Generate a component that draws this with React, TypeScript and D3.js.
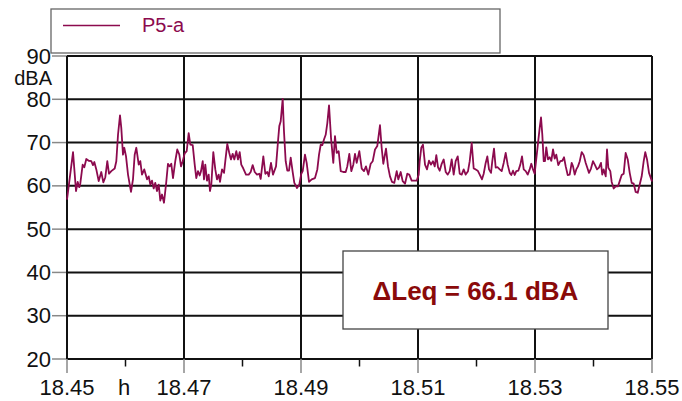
import React from "react";
import * as d3 from "d3";

// time (h) of each sample
const times: number[] = [
  18.45, 18.45103, 18.45154, 18.45183, 18.4521, 18.45227, 18.45268, 18.45296, 18.4533, 18.45371,
  18.45415, 18.45444, 18.45467, 18.45501, 18.45542, 18.45586, 18.45621, 18.45655, 18.45689, 18.45718,
  18.45757, 18.45815, 18.45843, 18.45872, 18.45906, 18.45928, 18.45957, 18.45979, 18.46009, 18.46043,
  18.46094, 18.46128, 18.46157, 18.46185, 18.46226, 18.46253, 18.46282, 18.46321, 18.46368, 18.46397,
  18.46424, 18.46453, 18.46482, 18.46509, 18.46538, 18.46568, 18.46595, 18.46624, 18.46658, 18.46697,
  18.46726, 18.46756, 18.46783, 18.46812, 18.46851, 18.46885, 18.4692, 18.46949, 18.46978,
  18.47012, 18.47046, 18.4708, 18.47108, 18.47149, 18.47183, 18.4721, 18.47239, 18.47268, 18.47291,
  18.4732, 18.47342, 18.47364, 18.47393, 18.47422, 18.47444, 18.47467, 18.47501, 18.47535, 18.47564,
  18.47593, 18.47615, 18.4765, 18.47684, 18.47706, 18.4774, 18.47774, 18.47803, 18.47832, 18.4786,
  18.47894, 18.47923, 18.47952, 18.47979, 18.48014, 18.4806, 18.48106, 18.4814, 18.48174, 18.48209,
  18.48248, 18.48287, 18.48311, 18.48356, 18.4839, 18.48424, 18.48448, 18.48487, 18.48521, 18.48573,
  18.48607, 18.48629, 18.48653, 18.48687, 18.48709, 18.48738, 18.48766, 18.48795, 18.48824, 18.48858,
  18.48886, 18.48932, 18.48971, 18.49005,
  18.49029, 18.49068, 18.49097, 18.49137, 18.49183, 18.49239, 18.49279, 18.49308, 18.49337, 18.49364,
  18.49393, 18.49422, 18.4945, 18.49479, 18.49513, 18.49552, 18.49581, 18.4961, 18.49644, 18.49679,
  18.49723, 18.49764, 18.49791, 18.49826, 18.4986, 18.49894, 18.49923, 18.49952, 18.49997, 18.50038,
  18.50077, 18.50111, 18.5015, 18.50191, 18.50226, 18.50265, 18.50304, 18.5035, 18.50379, 18.50407,
  18.50453, 18.50487, 18.50521, 18.50556, 18.50595, 18.50636, 18.50663, 18.50704, 18.50738, 18.50778,
  18.50817, 18.50851, 18.50892, 18.50932, 18.50978, 18.51012,
  18.51029, 18.51056, 18.51085, 18.5112, 18.51154, 18.51188, 18.51222, 18.51256, 18.51286, 18.51313,
  18.51342, 18.51371, 18.51405, 18.51439, 18.51474, 18.51508, 18.51542, 18.51576, 18.5161, 18.51644,
  18.51679, 18.51713, 18.51747, 18.51781, 18.51815, 18.51855, 18.51884, 18.51918, 18.51952, 18.51986,
  18.52021, 18.52055, 18.52094, 18.52123, 18.52157, 18.52185, 18.52214, 18.52248, 18.5227, 18.52299,
  18.52328, 18.52362, 18.52397, 18.52431, 18.52465, 18.52499, 18.52533, 18.52568, 18.52595, 18.52624,
  18.52653, 18.5268, 18.52715, 18.52749, 18.52778, 18.52807, 18.52841, 18.52875, 18.52909, 18.52937,
  18.52966, 18.52994,
  18.53046, 18.5308, 18.53103, 18.53125, 18.53149, 18.53171, 18.53193, 18.53222, 18.53251, 18.53279,
  18.53308, 18.53337, 18.53364, 18.53398, 18.53433, 18.53467, 18.53496, 18.53525, 18.53559, 18.53593,
  18.53627, 18.5365, 18.53679, 18.53706, 18.53735, 18.53765, 18.53798, 18.53832, 18.53867, 18.53894,
  18.53923, 18.53957, 18.53991, 18.54026, 18.5406, 18.54094, 18.54128, 18.5415, 18.54174, 18.54209,
  18.54231, 18.54253, 18.54287, 18.54311, 18.54345, 18.54379, 18.54419, 18.54448, 18.54482, 18.54516,
  18.5455, 18.54585, 18.54619, 18.54653, 18.54687, 18.54721, 18.54756, 18.5479, 18.54824, 18.54858,
  18.54885, 18.54915, 18.54949, 18.54988, 18.55,
];

// level (dBA) for series P5-a
const levels: number[] = [
  56.8, 67.8, 58.8, 60.9, 59.7, 60.5, 64.9, 64.3, 66.2, 65.8,
  65.7, 64.8, 65.5, 63.8, 61.1, 63.2, 60.8, 62.0, 65.7, 62.8,
  63.4, 64.0, 65.7, 71.8, 76.3, 73.4, 67.2, 68.8, 66.8, 62.6,
  58.6, 61.5, 67.2, 68.8, 64.9, 65.7, 62.6, 63.8, 61.5, 62.2,
  60.3, 61.2, 59.4, 60.7, 58.8, 60.3, 56.6, 58.0, 56.1, 60.9,
  65.1, 64.5, 65.1, 61.8, 65.7, 68.4, 67.2, 64.5, 65.7,
  67.5, 68.0, 72.2, 69.5, 69.4, 64.9, 61.8, 63.4, 62.4, 63.4,
  65.7, 61.5, 64.9, 61.2, 62.6, 58.8, 60.3, 67.8, 63.8, 61.5,
  62.6, 60.9, 63.8, 63.0, 65.7, 69.7, 67.6, 66.1, 67.4, 66.1,
  68.0, 66.1, 67.8, 64.9, 64.0, 62.6, 62.6, 63.2, 64.8, 63.2,
  62.6, 62.8, 61.6, 66.8, 62.8, 63.2, 62.2, 65.3, 62.6, 64.5,
  70.3, 73.8, 74.9, 80.1, 72.6, 65.7, 63.5, 63.5, 66.5, 63.2,
  60.7, 59.5, 60.3, 62.8,
  63.4, 67.2, 65.3, 60.9, 61.5, 61.8, 63.8, 67.2, 69.5, 69.4,
  70.7, 71.8, 74.5, 78.6, 71.1, 65.3, 71.5, 67.6, 68.0, 63.4,
  63.2, 63.2, 64.5, 67.4, 63.4, 64.9, 67.4, 65.3, 68.0, 64.0,
  63.4, 64.5, 62.6, 65.1, 65.7, 68.4, 69.2, 74.0, 68.8, 65.1,
  68.6, 64.5, 62.2, 60.9, 60.7, 63.4, 61.5, 63.2, 61.1, 60.5,
  62.8, 62.6, 61.2, 61.2, 61.2, 62.6,
  65.7, 68.8, 69.5, 64.9, 63.8, 65.8, 64.9, 65.7, 64.5, 67.1,
  64.3, 63.5, 65.1, 66.1, 63.2, 62.6, 63.4, 66.1, 62.6, 65.7,
  66.8, 62.8, 62.6, 63.8, 62.6, 63.4, 65.7, 69.9, 64.0, 63.8,
  63.5, 62.6, 61.5, 62.8, 65.3, 66.8, 63.8, 63.0, 65.7, 68.6,
  64.2, 64.3, 63.8, 63.4, 65.3, 67.6, 64.9, 63.0, 62.5, 63.5,
  62.5, 63.4, 63.5, 64.9, 66.8, 63.8, 63.4, 62.6, 63.8, 65.1,
  63.8, 62.8,
  69.2, 73.4, 75.8, 71.8, 65.7, 65.7, 68.9, 66.1, 66.6, 65.8,
  68.4, 66.3, 67.2, 64.8, 65.7, 65.8, 66.6, 64.5, 62.5, 62.6,
  65.3, 64.5, 62.6, 63.8, 64.5, 65.7, 67.8, 67.1, 65.3, 64.2,
  63.0, 64.0, 65.7, 64.8, 63.8, 64.2, 65.3, 62.6, 63.8, 62.2,
  68.4, 64.2, 63.4, 60.9, 59.4, 59.9, 59.9, 61.1, 62.5, 62.8,
  67.6, 66.1, 63.0, 60.7, 60.5, 58.6, 58.4, 60.3, 62.2, 65.7,
  67.8, 66.1, 63.0, 61.5, 61.0,
];

const seriesName = "P5-a";
const xTicks: number[] = [18.45, 18.47, 18.49, 18.51, 18.53, 18.55];
const xMinorTicks: number[] = [18.46, 18.48, 18.5, 18.52, 18.54];
const yTicks: number[] = [20, 30, 40, 50, 60, 70, 80, 90];
const yUnit = "dBA";
const xUnit = "h";
const annotation = "\u0394Leq = 66.1 dBA";

const W = 682;
const H = 401;
const M = { left: 67, right: 652, top: 56, bottom: 359 };
const LINE_COLOR = "#8c0a4e";
const FONT = "'Liberation Sans', Arial, sans-serif";

export default function App() {
  const x = d3.scaleLinear().domain([18.45, 18.55]).range([M.left, M.right]);
  const y = d3.scaleLinear().domain([20, 90]).range([M.bottom, M.top]);
  const data = times.map((t, i) => [t, levels[i]] as [number, number]);
  const path = d3
    .line<[number, number]>()
    .x((d) => x(d[0]))
    .y((d) => y(d[1]))(data) as string;

  return (
    <svg
      width={W}
      height={H}
      style={{ position: "absolute", left: 0, top: 0, background: "#fff" }}
      fontFamily={FONT}
    >
      <rect x={0} y={0} width={W} height={H} fill="#fff" />
      {/* legend */}
      <rect x={51} y={9} width={449} height={44} fill="#fff" stroke="#666" strokeWidth={1.3} />
      <line x1={63} x2={120} y1={25.5} y2={25.5} stroke={LINE_COLOR} strokeWidth={1.6} />
      <text x={142} y={32} fontSize={20} fill={LINE_COLOR}>
        {seriesName}
      </text>

      {/* horizontal grid */}
      {yTicks.map((v) => (
        <g key={"y" + v}>
          <line x1={52} x2={M.left} y1={y(v)} y2={y(v)} stroke="#888" strokeWidth={1.5} />
          <line x1={M.left} x2={M.right} y1={y(v)} y2={y(v)} stroke="#111" strokeWidth={2} />
          <text x={51} y={y(v) + 7.5} fontSize={22} textAnchor="end" fill="#111">
            {v}
          </text>
        </g>
      ))}
      <text x={52} y={84.5} fontSize={20} textAnchor="end" fill="#111">
        {yUnit}
      </text>

      {/* vertical grid */}
      {xTicks.map((v) => (
        <g key={"x" + v}>
          <line x1={x(v)} x2={x(v)} y1={M.top} y2={M.bottom} stroke="#111" strokeWidth={2} />
          <line x1={x(v)} x2={x(v)} y1={M.bottom} y2={373} stroke="#888" strokeWidth={1.5} />
          <text x={x(v)} y={395} fontSize={22} textAnchor="middle" fill="#111">
            {v.toFixed(2)}
          </text>
        </g>
      ))}
      {xMinorTicks.map((v) => (
        <line key={"m" + v} x1={x(v)} x2={x(v)} y1={M.bottom} y2={366.5} stroke="#111" strokeWidth={1.5} />
      ))}
      <text x={124} y={395} fontSize={22} textAnchor="middle" fill="#111">
        {xUnit}
      </text>

      {/* series */}
      <path d={path} fill="none" stroke={LINE_COLOR} strokeWidth={1.8} strokeLinejoin="round" />

      {/* annotation */}
      <rect x={343} y={251} width={265} height={78} fill="#fff" stroke="#444" strokeWidth={1.3} />
      <text x={475.5} y={300} fontSize={26} fontWeight="bold" textAnchor="middle" fill="#8a0a0a">
        {annotation}
      </text>
    </svg>
  );
}
